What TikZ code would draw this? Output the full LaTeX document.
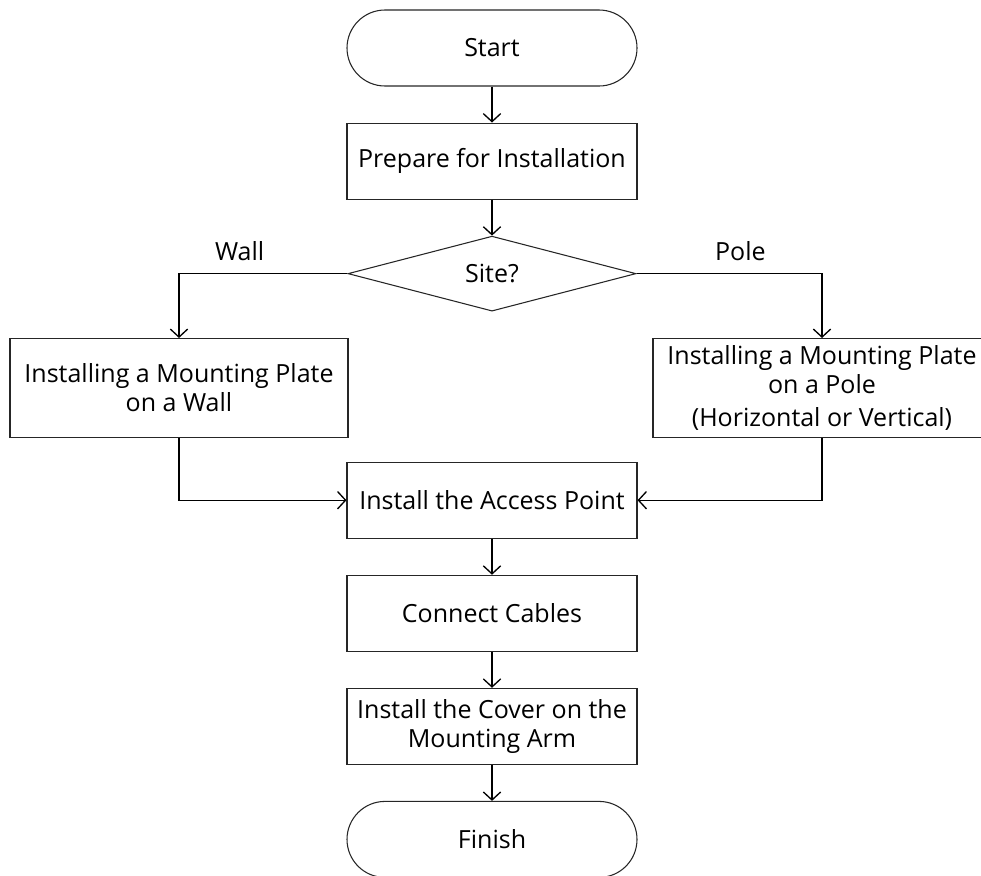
\documentclass[tikz,border=0pt]{standalone}
\usepackage{fontspec}
\setmainfont{Open Sans}
\usetikzlibrary{shapes.geometric,positioning,arrows.meta}
\tikzset{process/.style={draw=black!85, rectangle, line width=0.8pt, minimum width=217.5pt, minimum height=57pt, align=center, inner sep=2pt}}
\tikzset{terminal/.style={process, rounded corners=28.5pt}}
\tikzset{branch/.style={process, minimum width=253.5pt, minimum height=74.25pt}}
\tikzset{decision/.style={draw=black!85, diamond, aspect=3.84, minimum width=216pt, minimum height=56.25pt, inner sep=0pt, line width=0.8pt}}
\tikzset{flow/.style={-{Straight Barb[length=6pt,width=13pt]}, line width=1pt}}

\begin{document}
\begin{tikzpicture}[node distance=27pt, font=\fontsize{18.75}{21.75}\selectfont]
\useasboundingbox (0,0) rectangle (735.75pt,-656.25pt);
\node[terminal] (start) at (369pt,-36pt) {Start};
\node[process, below=of start] (prepare) {Prepare for Installation};
\node[decision, below=of prepare] (site) {Site?};
\node[branch] (wall) at (134.25pt,-291pt) {Installing a Mounting Plate\\on a Wall};
\node[branch] (pole) at (616.5pt,-291pt) {Installing a Mounting Plate\\on a Pole\\[3pt](Horizontal or Vertical)};
\node[process, below=112.5pt of site] (access) {Install the Access Point};
\node[process, below=of access] (cables) {Connect Cables};
\node[process, below=of cables] (cover) {Install the Cover on the\\Mounting Arm};
\node[terminal, below=of cover] (finish) {Finish};
% main column
\draw[flow] (start) -- (prepare);
\draw[flow] (prepare) -- (site);
\draw[flow] (site.west) -| node[pos=0.32, above=6pt] {Wall} (wall.north);
\draw[flow] (site.east) -| node[pos=0.28, above=6pt] {Pole} (pole.north);
\draw[flow] (wall.south) |- (access.west);
\draw[flow] (pole.south) |- (access.east);
\draw[flow] (access) -- (cables);
\draw[flow] (cables) -- (cover);
\draw[flow] (cover) -- (finish);
\end{tikzpicture}
\end{document}
